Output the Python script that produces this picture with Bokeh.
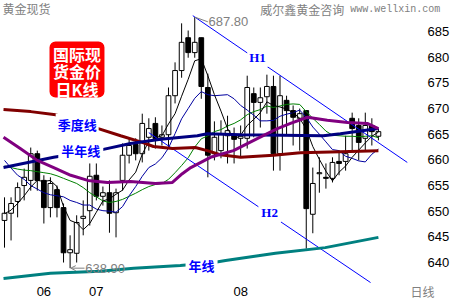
from bokeh.plotting import figure
from bokeh.models import Range1d, FixedTicker, Label, Arrow, OpenHead, BoxAnnotation
from bokeh.embed import file_html
from bokeh.resources import INLINE

# ---------------- data ----------------
opens = [648.2, 649.6, 651.9, 655.0, 656.0, 661.2, 656.0, 650.7, 654.2, 650.7,
         641.9, 641.8, 648.6, 650.1, 657.0, 652.9, 653.6, 649.7, 656.0, 660.9,
         663.0, 661.2, 664.4, 667.1, 664.4, 664.9, 672.5, 677.4, 683.8, 680.9,
         683.8, 674.1, 661.2, 661.8, 664.7, 664.9, 664.2, 664.2, 672.9, 671.2,
         672.3, 674.3, 661.2, 671.6, 669.6, 668.1, 669.6, 649.4, 657.3, 656.6,
         656.4, 659.7, 659.7, 668.1, 666.7, 664.2, 666.7, 664.6]
highs = [652.7, 652.7, 655.6, 658.3, 662.4, 661.8, 657.0, 656.6, 655.0, 651.5,
         645.3, 649.2, 652.1, 659.3, 659.3, 654.8, 656.0, 654.4, 663.2, 664.4,
         664.2, 669.0, 668.1, 668.3, 666.7, 674.1, 679.0, 686.6, 685.2, 687.8,
         683.8, 676.8, 667.5, 667.7, 668.6, 666.3, 666.7, 676.4, 674.1, 674.1,
         676.6, 676.4, 676.4, 672.5, 670.6, 670.0, 669.6, 658.5, 660.5, 659.3,
         660.5, 661.8, 664.7, 669.2, 668.1, 669.2, 668.1, 666.1]
lows = [642.9, 644.3, 648.8, 652.1, 654.0, 654.0, 647.6, 648.8, 648.8, 640.0,
        638.9, 640.0, 645.3, 647.2, 652.1, 651.1, 645.8, 644.9, 654.0, 659.3,
        659.9, 659.5, 661.8, 662.2, 662.8, 662.4, 671.0, 676.0, 679.9, 679.9,
        671.9, 656.6, 659.9, 660.3, 659.3, 659.3, 660.5, 662.2, 664.4, 666.3,
        669.0, 657.9, 657.9, 664.7, 662.8, 661.8, 642.7, 645.7, 653.6, 654.4,
        655.6, 657.0, 657.9, 661.8, 659.9, 661.8, 662.8, 663.8]
closes = [649.6, 651.5, 654.6, 656.6, 661.2, 656.0, 650.7, 655.4, 650.7, 641.9,
          642.5, 647.8, 649.0, 656.8, 652.9, 653.6, 649.6, 653.6, 660.9, 662.8,
          661.2, 667.1, 666.1, 664.2, 664.9, 672.5, 677.4, 682.9, 680.9, 682.9,
          674.3, 660.9, 664.4, 665.1, 665.7, 664.0, 664.6, 674.1, 671.2, 672.1,
          674.3, 661.2, 672.5, 669.6, 668.3, 669.0, 650.5, 655.4, 657.5, 656.4,
          659.5, 659.3, 661.2, 666.1, 663.4, 666.7, 665.5, 665.5]

ma5 = [649.5, 650.2, 651.5, 653.0, 654.7, 656.0, 655.8, 656.0, 654.8, 650.9,
       648.2, 647.7, 646.4, 647.6, 649.8, 652.0, 652.4, 653.3, 654.1, 656.1,
       657.6, 661.1, 663.6, 664.3, 664.7, 667.0, 669.0, 672.4, 675.7, 679.3,
       679.7, 676.4, 672.7, 669.5, 666.1, 664.0, 664.8, 666.7, 667.9, 669.2,
       671.3, 670.6, 670.3, 669.9, 669.2, 668.1, 666.0, 662.6, 660.1, 657.8,
       655.9, 657.6, 658.8, 660.5, 661.9, 663.3, 664.6, 665.4]
ma10 = [659.9, 658.4, 657.0, 656.2, 655.0, 654.3, 653.6, 653.2, 653.0, 652.8,
        652.1, 651.7, 651.2, 651.2, 650.4, 650.1, 650.0, 649.8, 650.9, 653.0,
        654.8, 656.8, 658.5, 659.2, 660.4, 662.3, 665.1, 668.0, 670.0, 672.0,
        673.3, 672.7, 672.5, 672.6, 672.7, 671.9, 670.6, 669.7, 668.7, 667.6,
        667.6, 667.7, 668.5, 668.9, 669.2, 669.7, 668.3, 666.4, 665.0, 663.5,
        662.0, 661.8, 660.7, 660.3, 659.8, 659.6, 661.1, 662.1]
ma20 = [658.8, 658.5, 658.2, 658.0, 657.9, 657.7, 657.5, 657.3, 656.9, 656.4,
        655.9, 655.4, 654.6, 653.6, 652.8, 652.0, 651.7, 651.9, 652.3, 652.9,
        653.5, 654.2, 654.8, 655.2, 655.4, 656.2, 657.5, 658.9, 660.4, 662.5,
        664.1, 664.7, 665.5, 665.9, 666.6, 667.1, 667.8, 668.8, 669.4, 669.8,
        670.5, 670.2, 670.5, 670.8, 670.9, 670.8, 669.4, 668.1, 666.9, 665.6,
        664.8, 664.7, 664.6, 664.6, 664.5, 664.6, 664.7, 664.3]

# thick averages, read at sampled bar positions
purple_x = [-0.15, 2.4, 5.0, 7.5, 10.1, 12.7, 15.7, 19.2, 23.0, 25.6, 27.1, 28.4,
            31.4, 34.9, 38.6, 41.6, 43.6, 46.2, 49.2, 52.3, 55.3, 57.0]
purple_v = [664.4, 662.2, 659.9, 658.5, 657.0, 656.0, 655.6, 655.8, 655.4, 655.6, 657.3, 658.5,
            660.5, 661.8, 664.2, 666.1, 667.1, 668.3, 667.7, 667.3, 667.1, 666.1]
quarter_x = [-0.15, 4.0, 7.8, 14.3, 17.7, 21.0, 22.7, 25.6, 29.1, 30.9, 32.9, 36.0,
             41.0, 45.1, 51.2, 57.0]
quarter_v = [669.8, 669.4, 668.8, 666.1, 664.7, 663.4, 662.6, 662.2, 662.4, 661.8, 661.0, 660.5,
             660.9, 661.4, 661.6, 661.8]
half_x = [-0.15, 7.5, 14.9, 19.2, 23.8, 29.4, 30.9, 36.0, 48.6, 51.2, 57.0]
half_v = [658.5, 660.5, 662.0, 663.2, 664.0, 664.7, 665.1, 664.9, 664.7, 665.1, 666.1]
year_x = [-0.15, 7.0, 14.6, 19.7, 26.8, 31.9, 33.7, 41.3, 48.9, 57.0]
year_v = [636.9, 637.9, 638.3, 638.9, 639.4, 640.0, 640.4, 641.8, 642.9, 644.9]

# trend channel lines (bar index, price)
h1_x = [28.7, 61.4]
h1_v = [688.1, 659.5]
h2_x = [22.0, 55.8]
h2_v = [665.3, 636.1]

y_ticks = [640, 645, 650, 655, 660, 665, 670, 675, 680, 685]
month_pos = [6, 14, 36]
month_labels = ["06", "07", "08"]

high_pt = (29, 687.8)
low_pt = (10, 638.9)

# ---------------- figure ----------------
idx = list(range(len(closes)))
body_top = [max(o, c) for o, c in zip(opens, closes)]
body_bot = [min(o, c) for o, c in zip(opens, closes)]
fills = ["white" if c >= o else "black" for o, c in zip(opens, closes)]

X_EDGE = 61.59      # right edge of the price area (bar units)
Y_EDGE = 635.91     # bottom edge of the price area (price units)

p = figure(width=450, height=300, output_backend="svg", toolbar_location=None,
           x_range=Range1d(-0.61, 67.99), y_range=Range1d(632.60, 691.05),
           min_border=0, min_border_left=0, min_border_right=0,
           min_border_top=0, min_border_bottom=0,
           y_axis_location="right", background_fill_color="white", border_fill_color="white")
p.outline_line_color = None
p.grid.visible = False

for ax in (p.xaxis[0], p.yaxis[0]):
    ax.axis_line_color = None
    ax.major_tick_line_color = None
    ax.minor_tick_line_color = None
    ax.major_tick_out = 0
    ax.major_tick_in = 0
    ax.minor_tick_out = 0
    ax.major_label_text_font = "Liberation Sans"
    ax.major_label_text_font_size = "13px"
    ax.major_label_text_color = "black"

p.yaxis.ticker = FixedTicker(ticks=y_ticks)
p.yaxis.major_label_standoff = 19
p.yaxis.fixed_location = X_EDGE
p.xaxis.ticker = FixedTicker(ticks=month_pos)
p.xaxis.major_label_overrides = {m: l for m, l in zip(month_pos, month_labels)}
p.xaxis.major_label_standoff = 3
p.xaxis.fixed_location = Y_EDGE

# candles
p.segment(idx, highs, idx, lows, line_color="black", line_width=1)
p.vbar(x=idx, top=body_top, bottom=body_bot, width=0.72,
       fill_color=fills, line_color="black", line_width=1)

# thin averages
p.line(idx, ma20, line_color="#008000", line_width=1)
p.line(idx, ma10, line_color="#0000a0", line_width=1)
p.line(idx, ma5, line_color="black", line_width=1)

# trend lines
p.line(h1_x, h1_v, line_color="#0000ff", line_width=1)
p.line(h2_x, h2_v, line_color="#0000ff", line_width=1)

# thick averages
p.line(year_x, year_v, line_color="#008080", line_width=3)
p.line(quarter_x, quarter_v, line_color="#800000", line_width=3)
p.line(half_x, half_v, line_color="#000080", line_width=3)
p.line(purple_x, purple_v, line_color="#800080", line_width=3)

# extreme annotations
gray = "#808080"
p.segment([high_pt[0] + 0.05], [high_pt[1]], [high_pt[0] + 2.0], [high_pt[1] - 0.9],
          line_color=gray, line_width=1)
p.add_layout(Label(x=high_pt[0] + 2.1, y=high_pt[1] - 0.9, text="%.2f" % high_pt[1],
                   text_font="Liberation Sans", text_font_size="13px", text_color=gray,
                   text_align="left", text_baseline="middle"))
p.add_layout(Arrow(end=OpenHead(size=5, line_color=gray, line_width=1),
                   x_start=low_pt[0] + 2.2, y_start=low_pt[1], x_end=low_pt[0] + 0.1, y_end=low_pt[1],
                   line_color=gray, line_width=1))
p.add_layout(Label(x=low_pt[0] + 2.3, y=low_pt[1], text="%.2f" % low_pt[1],
                   text_font="Liberation Sans", text_font_size="13px", text_color=gray,
                   text_align="left", text_baseline="middle"))

cjk = "Noto Sans CJK SC"


def lab(x, y, text, color, size, font=cjk, bold=False, bg=None, pad=0, **kw):
    L = Label(x=x, y=y, text=text, text_color=color, text_font=font,
              text_font_size=size, text_font_style="bold" if bold else "normal",
              text_align=kw.pop("align", "left"), text_baseline=kw.pop("baseline", "middle"),
              **kw)
    if bg is not None:
        L.background_fill_color = bg
        L.padding = pad
    p.add_layout(L)
    return L


lab(-0.3, 689.5, "黄金现货", gray, "12px")
lab(39.0, 689.3, "威尔鑫黄金咨询", gray, "12px")
lab(52.7, 689.2, "www.wellxin.com", gray, "10px", font="Liberation Mono")

# red title badge
p.add_layout(BoxAnnotation(left=6.86, right=15.24, top=683.06, bottom=672.15,
                           fill_color="#ff0000", fill_alpha=1.0, line_color=None,
                           border_radius=6))
for yy, t in zip([680.72, 677.22, 673.71], ["国际现", "货金价", "日K线"]):
    lab(11.05, yy, t, "white", "16px", bold=True, align="center")

lab(7.8, 666.8, "季度线", "#0000ff", "13px", bold=True, bg="white", pad=2)
lab(8.2, 661.9, "半年线", "#0000ff", "13px", bold=True, bg="white", pad=3)
lab(27.6, 639.4, "年线", "#0000ff", "13px", bold=True, bg="white", pad=3)
lab(37.0, 679.9, "H1", "#0000ff", "13px", font="Liberation Serif", bold=True, bg="white", pad=2)
lab(38.7, 649.8, "H2", "#0000ff", "13px", font="Liberation Serif", bold=True, bg="white", pad=3)
lab(61.9, 634.3, "日线", gray, "12px")

open("out.html", "w").write(file_html(p, INLINE))
